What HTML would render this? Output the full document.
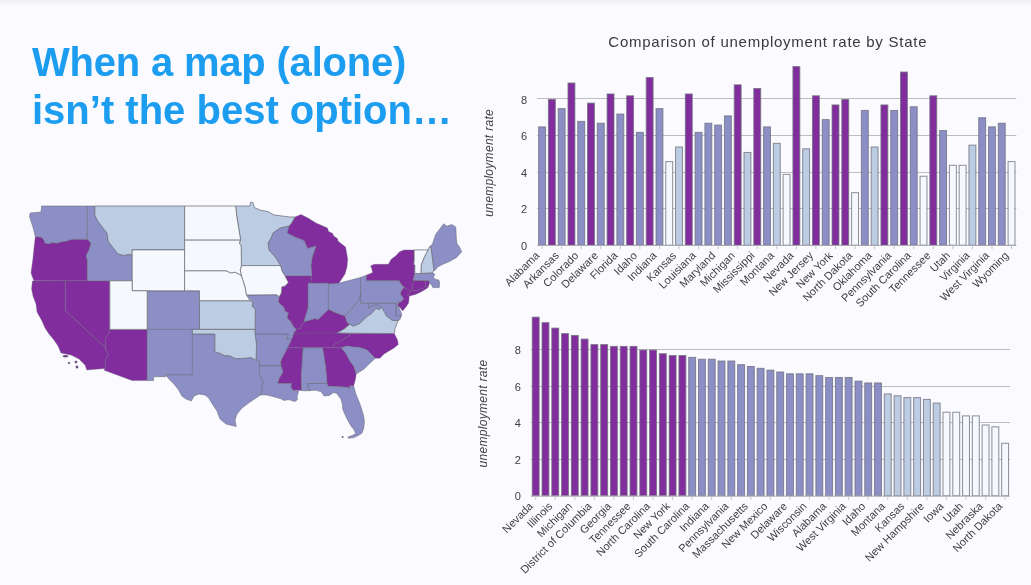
<!DOCTYPE html>
<html><head><meta charset="utf-8"><title>When a map (alone) isn't the best option</title>
<style>
html,body{margin:0;padding:0;}
body{width:1031px;height:585px;overflow:hidden;background:#fafaff;font-family:"Liberation Sans",sans-serif;position:relative;}
.topbar{position:absolute;left:0;top:0;width:1031px;height:6px;background:linear-gradient(#f2f2f5 0,#f3f3f6 50%,#fafaff 100%);}
h1{position:absolute;left:32px;top:38px;margin:0;font-weight:700;font-size:40px;line-height:48px;color:#1c9df0;letter-spacing:0px;white-space:nowrap;will-change:transform;}
svg{position:absolute;left:0;top:0;will-change:transform;}
.tk{font-size:11px;fill:#3e3e3e;}
.at{font-size:12px;font-style:italic;fill:#444;letter-spacing:0.3px;}
.xl{font-size:11px;fill:#3e3e3e;}
.ct{font-size:15px;fill:#3a3a3a;letter-spacing:0.74px;}
</style></head><body>
<div class="topbar"></div>
<h1><span id="l1" style="letter-spacing:-0.2px">When a map (alone)</span><br><span id="l2" style="letter-spacing:0px">isn’t the best option…</span></h1>
<svg width="1031" height="585" viewBox="0 0 1031 585" font-family="Liberation Sans, sans-serif">
<text x="767.8" y="46.8" text-anchor="middle" class="ct">Comparison of unemployment rate by State</text>
<g id="chart-top">
<line x1="537.2" y1="208.5" x2="1016.4" y2="208.5" stroke="#bdbdc0" stroke-width="1"/>
<line x1="537.2" y1="172.5" x2="1016.4" y2="172.5" stroke="#bdbdc0" stroke-width="1"/>
<line x1="537.2" y1="135.5" x2="1016.4" y2="135.5" stroke="#bdbdc0" stroke-width="1"/>
<line x1="537.2" y1="98.5" x2="1016.4" y2="98.5" stroke="#bdbdc0" stroke-width="1"/>
<rect x="538.64" y="126.88" width="6.90" height="118.32" fill="#8b8fc6" stroke="#70707e" stroke-opacity="0.8" stroke-width="1"/>
<rect x="548.42" y="99.46" width="6.90" height="145.74" fill="#812d9d" stroke="#70707e" stroke-opacity="0.8" stroke-width="1"/>
<rect x="558.20" y="108.60" width="6.90" height="136.60" fill="#8b8fc6" stroke="#70707e" stroke-opacity="0.8" stroke-width="1"/>
<rect x="567.98" y="83.01" width="6.90" height="162.19" fill="#812d9d" stroke="#70707e" stroke-opacity="0.8" stroke-width="1"/>
<rect x="577.76" y="121.40" width="6.90" height="123.80" fill="#8b8fc6" stroke="#70707e" stroke-opacity="0.8" stroke-width="1"/>
<rect x="587.54" y="103.12" width="6.90" height="142.08" fill="#812d9d" stroke="#70707e" stroke-opacity="0.8" stroke-width="1"/>
<rect x="597.32" y="123.22" width="6.90" height="121.98" fill="#8b8fc6" stroke="#70707e" stroke-opacity="0.8" stroke-width="1"/>
<rect x="607.10" y="93.98" width="6.90" height="151.22" fill="#812d9d" stroke="#70707e" stroke-opacity="0.8" stroke-width="1"/>
<rect x="616.88" y="114.08" width="6.90" height="131.12" fill="#8b8fc6" stroke="#70707e" stroke-opacity="0.8" stroke-width="1"/>
<rect x="626.66" y="95.80" width="6.90" height="149.40" fill="#812d9d" stroke="#70707e" stroke-opacity="0.8" stroke-width="1"/>
<rect x="636.44" y="132.36" width="6.90" height="112.84" fill="#8b8fc6" stroke="#70707e" stroke-opacity="0.8" stroke-width="1"/>
<rect x="646.22" y="77.52" width="6.90" height="167.68" fill="#812d9d" stroke="#70707e" stroke-opacity="0.8" stroke-width="1"/>
<rect x="656.00" y="108.60" width="6.90" height="136.60" fill="#8b8fc6" stroke="#70707e" stroke-opacity="0.8" stroke-width="1"/>
<rect x="665.78" y="161.61" width="6.90" height="83.59" fill="#f5f9fd" stroke="#70707e" stroke-opacity="0.8" stroke-width="1"/>
<rect x="675.56" y="146.99" width="6.90" height="98.21" fill="#bccde3" stroke="#70707e" stroke-opacity="0.8" stroke-width="1"/>
<rect x="685.34" y="93.98" width="6.90" height="151.22" fill="#812d9d" stroke="#70707e" stroke-opacity="0.8" stroke-width="1"/>
<rect x="695.12" y="132.36" width="6.90" height="112.84" fill="#8b8fc6" stroke="#70707e" stroke-opacity="0.8" stroke-width="1"/>
<rect x="704.90" y="123.22" width="6.90" height="121.98" fill="#8b8fc6" stroke="#70707e" stroke-opacity="0.8" stroke-width="1"/>
<rect x="714.68" y="125.05" width="6.90" height="120.15" fill="#8b8fc6" stroke="#70707e" stroke-opacity="0.8" stroke-width="1"/>
<rect x="724.46" y="115.91" width="6.90" height="129.29" fill="#8b8fc6" stroke="#70707e" stroke-opacity="0.8" stroke-width="1"/>
<rect x="734.24" y="84.84" width="6.90" height="160.36" fill="#812d9d" stroke="#70707e" stroke-opacity="0.8" stroke-width="1"/>
<rect x="744.02" y="152.47" width="6.90" height="92.73" fill="#bccde3" stroke="#70707e" stroke-opacity="0.8" stroke-width="1"/>
<rect x="753.80" y="88.49" width="6.90" height="156.71" fill="#812d9d" stroke="#70707e" stroke-opacity="0.8" stroke-width="1"/>
<rect x="763.58" y="126.88" width="6.90" height="118.32" fill="#8b8fc6" stroke="#70707e" stroke-opacity="0.8" stroke-width="1"/>
<rect x="773.36" y="143.33" width="6.90" height="101.87" fill="#bccde3" stroke="#70707e" stroke-opacity="0.8" stroke-width="1"/>
<rect x="783.14" y="174.41" width="6.90" height="70.79" fill="#f5f9fd" stroke="#70707e" stroke-opacity="0.8" stroke-width="1"/>
<rect x="792.92" y="66.56" width="6.90" height="178.64" fill="#812d9d" stroke="#70707e" stroke-opacity="0.8" stroke-width="1"/>
<rect x="802.70" y="148.82" width="6.90" height="96.38" fill="#bccde3" stroke="#70707e" stroke-opacity="0.8" stroke-width="1"/>
<rect x="812.48" y="95.80" width="6.90" height="149.40" fill="#812d9d" stroke="#70707e" stroke-opacity="0.8" stroke-width="1"/>
<rect x="822.26" y="119.57" width="6.90" height="125.63" fill="#8b8fc6" stroke="#70707e" stroke-opacity="0.8" stroke-width="1"/>
<rect x="832.04" y="104.94" width="6.90" height="140.26" fill="#812d9d" stroke="#70707e" stroke-opacity="0.8" stroke-width="1"/>
<rect x="841.82" y="99.46" width="6.90" height="145.74" fill="#812d9d" stroke="#70707e" stroke-opacity="0.8" stroke-width="1"/>
<rect x="851.60" y="192.69" width="6.90" height="52.51" fill="#f5f9fd" stroke="#70707e" stroke-opacity="0.8" stroke-width="1"/>
<rect x="861.38" y="110.43" width="6.90" height="134.77" fill="#8b8fc6" stroke="#70707e" stroke-opacity="0.8" stroke-width="1"/>
<rect x="871.16" y="146.99" width="6.90" height="98.21" fill="#bccde3" stroke="#70707e" stroke-opacity="0.8" stroke-width="1"/>
<rect x="880.94" y="104.94" width="6.90" height="140.26" fill="#812d9d" stroke="#70707e" stroke-opacity="0.8" stroke-width="1"/>
<rect x="890.72" y="110.43" width="6.90" height="134.77" fill="#8b8fc6" stroke="#70707e" stroke-opacity="0.8" stroke-width="1"/>
<rect x="900.50" y="72.04" width="6.90" height="173.16" fill="#812d9d" stroke="#70707e" stroke-opacity="0.8" stroke-width="1"/>
<rect x="910.28" y="106.77" width="6.90" height="138.43" fill="#8b8fc6" stroke="#70707e" stroke-opacity="0.8" stroke-width="1"/>
<rect x="920.06" y="176.24" width="6.90" height="68.96" fill="#f5f9fd" stroke="#70707e" stroke-opacity="0.8" stroke-width="1"/>
<rect x="929.84" y="95.80" width="6.90" height="149.40" fill="#812d9d" stroke="#70707e" stroke-opacity="0.8" stroke-width="1"/>
<rect x="939.62" y="130.54" width="6.90" height="114.66" fill="#8b8fc6" stroke="#70707e" stroke-opacity="0.8" stroke-width="1"/>
<rect x="949.40" y="165.27" width="6.90" height="79.93" fill="#f5f9fd" stroke="#70707e" stroke-opacity="0.8" stroke-width="1"/>
<rect x="959.18" y="165.27" width="6.90" height="79.93" fill="#f5f9fd" stroke="#70707e" stroke-opacity="0.8" stroke-width="1"/>
<rect x="968.96" y="145.16" width="6.90" height="100.04" fill="#bccde3" stroke="#70707e" stroke-opacity="0.8" stroke-width="1"/>
<rect x="978.74" y="117.74" width="6.90" height="127.46" fill="#8b8fc6" stroke="#70707e" stroke-opacity="0.8" stroke-width="1"/>
<rect x="988.52" y="126.88" width="6.90" height="118.32" fill="#8b8fc6" stroke="#70707e" stroke-opacity="0.8" stroke-width="1"/>
<rect x="998.30" y="123.22" width="6.90" height="121.98" fill="#8b8fc6" stroke="#70707e" stroke-opacity="0.8" stroke-width="1"/>
<rect x="1008.08" y="161.61" width="6.90" height="83.59" fill="#f5f9fd" stroke="#70707e" stroke-opacity="0.8" stroke-width="1"/>
<line x1="537.2" y1="245.5" x2="1016.4" y2="245.5" stroke="#a9a9b0" stroke-width="1"/>
<text x="527.2" y="249.8" text-anchor="end" class="tk">0</text>
<text x="527.2" y="213.2" text-anchor="end" class="tk">2</text>
<text x="527.2" y="176.7" text-anchor="end" class="tk">4</text>
<text x="527.2" y="140.1" text-anchor="end" class="tk">6</text>
<text x="527.2" y="103.6" text-anchor="end" class="tk">8</text>
<text transform="translate(492.9,162.9) rotate(-90)" text-anchor="middle" class="at">unemployment rate</text>
<line x1="542.1" y1="245.7" x2="542.1" y2="249.2" stroke="#c4c4ca" stroke-width="1"/>
<text transform="translate(537.3,253.5) rotate(-45)" text-anchor="end" class="xl" dy="0.35em">Alabama</text>
<line x1="561.6" y1="245.7" x2="561.6" y2="249.2" stroke="#c4c4ca" stroke-width="1"/>
<text transform="translate(556.9,253.5) rotate(-45)" text-anchor="end" class="xl" dy="0.35em">Arkansas</text>
<line x1="581.2" y1="245.7" x2="581.2" y2="249.2" stroke="#c4c4ca" stroke-width="1"/>
<text transform="translate(576.4,253.5) rotate(-45)" text-anchor="end" class="xl" dy="0.35em">Colorado</text>
<line x1="600.8" y1="245.7" x2="600.8" y2="249.2" stroke="#c4c4ca" stroke-width="1"/>
<text transform="translate(596.0,253.5) rotate(-45)" text-anchor="end" class="xl" dy="0.35em">Delaware</text>
<line x1="620.3" y1="245.7" x2="620.3" y2="249.2" stroke="#c4c4ca" stroke-width="1"/>
<text transform="translate(615.5,253.5) rotate(-45)" text-anchor="end" class="xl" dy="0.35em">Florida</text>
<line x1="639.9" y1="245.7" x2="639.9" y2="249.2" stroke="#c4c4ca" stroke-width="1"/>
<text transform="translate(635.1,253.5) rotate(-45)" text-anchor="end" class="xl" dy="0.35em">Idaho</text>
<line x1="659.5" y1="245.7" x2="659.5" y2="249.2" stroke="#c4c4ca" stroke-width="1"/>
<text transform="translate(654.7,253.5) rotate(-45)" text-anchor="end" class="xl" dy="0.35em">Indiana</text>
<line x1="679.0" y1="245.7" x2="679.0" y2="249.2" stroke="#c4c4ca" stroke-width="1"/>
<text transform="translate(674.2,253.5) rotate(-45)" text-anchor="end" class="xl" dy="0.35em">Kansas</text>
<line x1="698.6" y1="245.7" x2="698.6" y2="249.2" stroke="#c4c4ca" stroke-width="1"/>
<text transform="translate(693.8,253.5) rotate(-45)" text-anchor="end" class="xl" dy="0.35em">Louisiana</text>
<line x1="718.1" y1="245.7" x2="718.1" y2="249.2" stroke="#c4c4ca" stroke-width="1"/>
<text transform="translate(713.3,253.5) rotate(-45)" text-anchor="end" class="xl" dy="0.35em">Maryland</text>
<line x1="737.7" y1="245.7" x2="737.7" y2="249.2" stroke="#c4c4ca" stroke-width="1"/>
<text transform="translate(732.9,253.5) rotate(-45)" text-anchor="end" class="xl" dy="0.35em">Michigan</text>
<line x1="757.2" y1="245.7" x2="757.2" y2="249.2" stroke="#c4c4ca" stroke-width="1"/>
<text transform="translate(752.5,253.5) rotate(-45)" text-anchor="end" class="xl" dy="0.35em">Mississippi</text>
<line x1="776.8" y1="245.7" x2="776.8" y2="249.2" stroke="#c4c4ca" stroke-width="1"/>
<text transform="translate(772.0,253.5) rotate(-45)" text-anchor="end" class="xl" dy="0.35em">Montana</text>
<line x1="796.4" y1="245.7" x2="796.4" y2="249.2" stroke="#c4c4ca" stroke-width="1"/>
<text transform="translate(791.6,253.5) rotate(-45)" text-anchor="end" class="xl" dy="0.35em">Nevada</text>
<line x1="815.9" y1="245.7" x2="815.9" y2="249.2" stroke="#c4c4ca" stroke-width="1"/>
<text transform="translate(811.1,253.5) rotate(-45)" text-anchor="end" class="xl" dy="0.35em">New Jersey</text>
<line x1="835.5" y1="245.7" x2="835.5" y2="249.2" stroke="#c4c4ca" stroke-width="1"/>
<text transform="translate(830.7,253.5) rotate(-45)" text-anchor="end" class="xl" dy="0.35em">New York</text>
<line x1="855.1" y1="245.7" x2="855.1" y2="249.2" stroke="#c4c4ca" stroke-width="1"/>
<text transform="translate(850.3,253.5) rotate(-45)" text-anchor="end" class="xl" dy="0.35em">North Dakota</text>
<line x1="874.6" y1="245.7" x2="874.6" y2="249.2" stroke="#c4c4ca" stroke-width="1"/>
<text transform="translate(869.8,253.5) rotate(-45)" text-anchor="end" class="xl" dy="0.35em">Oklahoma</text>
<line x1="894.2" y1="245.7" x2="894.2" y2="249.2" stroke="#c4c4ca" stroke-width="1"/>
<text transform="translate(889.4,253.5) rotate(-45)" text-anchor="end" class="xl" dy="0.35em">Pennsylvania</text>
<line x1="913.7" y1="245.7" x2="913.7" y2="249.2" stroke="#c4c4ca" stroke-width="1"/>
<text transform="translate(908.9,253.5) rotate(-45)" text-anchor="end" class="xl" dy="0.35em">South Carolina</text>
<line x1="933.3" y1="245.7" x2="933.3" y2="249.2" stroke="#c4c4ca" stroke-width="1"/>
<text transform="translate(928.5,253.5) rotate(-45)" text-anchor="end" class="xl" dy="0.35em">Tennessee</text>
<line x1="952.9" y1="245.7" x2="952.9" y2="249.2" stroke="#c4c4ca" stroke-width="1"/>
<text transform="translate(948.1,253.5) rotate(-45)" text-anchor="end" class="xl" dy="0.35em">Utah</text>
<line x1="972.4" y1="245.7" x2="972.4" y2="249.2" stroke="#c4c4ca" stroke-width="1"/>
<text transform="translate(967.6,253.5) rotate(-45)" text-anchor="end" class="xl" dy="0.35em">Virginia</text>
<line x1="992.0" y1="245.7" x2="992.0" y2="249.2" stroke="#c4c4ca" stroke-width="1"/>
<text transform="translate(987.2,253.5) rotate(-45)" text-anchor="end" class="xl" dy="0.35em">West Virginia</text>
<line x1="1011.5" y1="245.7" x2="1011.5" y2="249.2" stroke="#c4c4ca" stroke-width="1"/>
<text transform="translate(1006.7,253.5) rotate(-45)" text-anchor="end" class="xl" dy="0.35em">Wyoming</text>
</g>
<g id="chart-bottom">
<line x1="530.8" y1="459.5" x2="1010.0" y2="459.5" stroke="#bdbdc0" stroke-width="1"/>
<line x1="530.8" y1="422.5" x2="1010.0" y2="422.5" stroke="#bdbdc0" stroke-width="1"/>
<line x1="530.8" y1="386.5" x2="1010.0" y2="386.5" stroke="#bdbdc0" stroke-width="1"/>
<line x1="530.8" y1="349.5" x2="1010.0" y2="349.5" stroke="#bdbdc0" stroke-width="1"/>
<rect x="532.24" y="317.16" width="6.90" height="178.64" fill="#812d9d" stroke="#70707e" stroke-opacity="0.8" stroke-width="1"/>
<rect x="542.02" y="322.64" width="6.90" height="173.16" fill="#812d9d" stroke="#70707e" stroke-opacity="0.8" stroke-width="1"/>
<rect x="551.80" y="328.12" width="6.90" height="167.68" fill="#812d9d" stroke="#70707e" stroke-opacity="0.8" stroke-width="1"/>
<rect x="561.58" y="333.61" width="6.90" height="162.19" fill="#812d9d" stroke="#70707e" stroke-opacity="0.8" stroke-width="1"/>
<rect x="571.36" y="335.44" width="6.90" height="160.36" fill="#812d9d" stroke="#70707e" stroke-opacity="0.8" stroke-width="1"/>
<rect x="581.14" y="339.09" width="6.90" height="156.71" fill="#812d9d" stroke="#70707e" stroke-opacity="0.8" stroke-width="1"/>
<rect x="590.92" y="344.58" width="6.90" height="151.22" fill="#812d9d" stroke="#70707e" stroke-opacity="0.8" stroke-width="1"/>
<rect x="600.70" y="344.58" width="6.90" height="151.22" fill="#812d9d" stroke="#70707e" stroke-opacity="0.8" stroke-width="1"/>
<rect x="610.48" y="346.40" width="6.90" height="149.40" fill="#812d9d" stroke="#70707e" stroke-opacity="0.8" stroke-width="1"/>
<rect x="620.26" y="346.40" width="6.90" height="149.40" fill="#812d9d" stroke="#70707e" stroke-opacity="0.8" stroke-width="1"/>
<rect x="630.04" y="346.40" width="6.90" height="149.40" fill="#812d9d" stroke="#70707e" stroke-opacity="0.8" stroke-width="1"/>
<rect x="639.82" y="350.06" width="6.90" height="145.74" fill="#812d9d" stroke="#70707e" stroke-opacity="0.8" stroke-width="1"/>
<rect x="649.60" y="350.06" width="6.90" height="145.74" fill="#812d9d" stroke="#70707e" stroke-opacity="0.8" stroke-width="1"/>
<rect x="659.38" y="353.72" width="6.90" height="142.08" fill="#812d9d" stroke="#70707e" stroke-opacity="0.8" stroke-width="1"/>
<rect x="669.16" y="355.54" width="6.90" height="140.26" fill="#812d9d" stroke="#70707e" stroke-opacity="0.8" stroke-width="1"/>
<rect x="678.94" y="355.54" width="6.90" height="140.26" fill="#812d9d" stroke="#70707e" stroke-opacity="0.8" stroke-width="1"/>
<rect x="688.72" y="357.37" width="6.90" height="138.43" fill="#8b8fc6" stroke="#70707e" stroke-opacity="0.8" stroke-width="1"/>
<rect x="698.50" y="359.20" width="6.90" height="136.60" fill="#8b8fc6" stroke="#70707e" stroke-opacity="0.8" stroke-width="1"/>
<rect x="708.28" y="359.20" width="6.90" height="136.60" fill="#8b8fc6" stroke="#70707e" stroke-opacity="0.8" stroke-width="1"/>
<rect x="718.06" y="361.03" width="6.90" height="134.77" fill="#8b8fc6" stroke="#70707e" stroke-opacity="0.8" stroke-width="1"/>
<rect x="727.84" y="361.03" width="6.90" height="134.77" fill="#8b8fc6" stroke="#70707e" stroke-opacity="0.8" stroke-width="1"/>
<rect x="737.62" y="364.68" width="6.90" height="131.12" fill="#8b8fc6" stroke="#70707e" stroke-opacity="0.8" stroke-width="1"/>
<rect x="747.40" y="366.51" width="6.90" height="129.29" fill="#8b8fc6" stroke="#70707e" stroke-opacity="0.8" stroke-width="1"/>
<rect x="757.18" y="368.34" width="6.90" height="127.46" fill="#8b8fc6" stroke="#70707e" stroke-opacity="0.8" stroke-width="1"/>
<rect x="766.96" y="370.17" width="6.90" height="125.63" fill="#8b8fc6" stroke="#70707e" stroke-opacity="0.8" stroke-width="1"/>
<rect x="776.74" y="372.00" width="6.90" height="123.80" fill="#8b8fc6" stroke="#70707e" stroke-opacity="0.8" stroke-width="1"/>
<rect x="786.52" y="373.82" width="6.90" height="121.98" fill="#8b8fc6" stroke="#70707e" stroke-opacity="0.8" stroke-width="1"/>
<rect x="796.30" y="373.82" width="6.90" height="121.98" fill="#8b8fc6" stroke="#70707e" stroke-opacity="0.8" stroke-width="1"/>
<rect x="806.08" y="373.82" width="6.90" height="121.98" fill="#8b8fc6" stroke="#70707e" stroke-opacity="0.8" stroke-width="1"/>
<rect x="815.86" y="375.65" width="6.90" height="120.15" fill="#8b8fc6" stroke="#70707e" stroke-opacity="0.8" stroke-width="1"/>
<rect x="825.64" y="377.48" width="6.90" height="118.32" fill="#8b8fc6" stroke="#70707e" stroke-opacity="0.8" stroke-width="1"/>
<rect x="835.42" y="377.48" width="6.90" height="118.32" fill="#8b8fc6" stroke="#70707e" stroke-opacity="0.8" stroke-width="1"/>
<rect x="845.20" y="377.48" width="6.90" height="118.32" fill="#8b8fc6" stroke="#70707e" stroke-opacity="0.8" stroke-width="1"/>
<rect x="854.98" y="381.14" width="6.90" height="114.66" fill="#8b8fc6" stroke="#70707e" stroke-opacity="0.8" stroke-width="1"/>
<rect x="864.76" y="382.96" width="6.90" height="112.84" fill="#8b8fc6" stroke="#70707e" stroke-opacity="0.8" stroke-width="1"/>
<rect x="874.54" y="382.96" width="6.90" height="112.84" fill="#8b8fc6" stroke="#70707e" stroke-opacity="0.8" stroke-width="1"/>
<rect x="884.32" y="393.93" width="6.90" height="101.87" fill="#bccde3" stroke="#70707e" stroke-opacity="0.8" stroke-width="1"/>
<rect x="894.10" y="395.76" width="6.90" height="100.04" fill="#bccde3" stroke="#70707e" stroke-opacity="0.8" stroke-width="1"/>
<rect x="903.88" y="397.59" width="6.90" height="98.21" fill="#bccde3" stroke="#70707e" stroke-opacity="0.8" stroke-width="1"/>
<rect x="913.66" y="397.59" width="6.90" height="98.21" fill="#bccde3" stroke="#70707e" stroke-opacity="0.8" stroke-width="1"/>
<rect x="923.44" y="399.42" width="6.90" height="96.38" fill="#bccde3" stroke="#70707e" stroke-opacity="0.8" stroke-width="1"/>
<rect x="933.22" y="403.07" width="6.90" height="92.73" fill="#bccde3" stroke="#70707e" stroke-opacity="0.8" stroke-width="1"/>
<rect x="943.00" y="412.21" width="6.90" height="83.59" fill="#f5f9fd" stroke="#70707e" stroke-opacity="0.8" stroke-width="1"/>
<rect x="952.78" y="412.21" width="6.90" height="83.59" fill="#f5f9fd" stroke="#70707e" stroke-opacity="0.8" stroke-width="1"/>
<rect x="962.56" y="415.87" width="6.90" height="79.93" fill="#f5f9fd" stroke="#70707e" stroke-opacity="0.8" stroke-width="1"/>
<rect x="972.34" y="415.87" width="6.90" height="79.93" fill="#f5f9fd" stroke="#70707e" stroke-opacity="0.8" stroke-width="1"/>
<rect x="982.12" y="425.01" width="6.90" height="70.79" fill="#f5f9fd" stroke="#70707e" stroke-opacity="0.8" stroke-width="1"/>
<rect x="991.90" y="426.84" width="6.90" height="68.96" fill="#f5f9fd" stroke="#70707e" stroke-opacity="0.8" stroke-width="1"/>
<rect x="1001.68" y="443.29" width="6.90" height="52.51" fill="#f5f9fd" stroke="#70707e" stroke-opacity="0.8" stroke-width="1"/>
<line x1="530.8" y1="496.1" x2="1010.0" y2="496.1" stroke="#a9a9b0" stroke-width="1"/>
<text x="520.8" y="500.4" text-anchor="end" class="tk">0</text>
<text x="520.8" y="463.8" text-anchor="end" class="tk">2</text>
<text x="520.8" y="427.3" text-anchor="end" class="tk">4</text>
<text x="520.8" y="390.7" text-anchor="end" class="tk">6</text>
<text x="520.8" y="354.2" text-anchor="end" class="tk">8</text>
<text transform="translate(486.5,413.5) rotate(-90)" text-anchor="middle" class="at">unemployment rate</text>
<line x1="535.7" y1="496.3" x2="535.7" y2="499.8" stroke="#c4c4ca" stroke-width="1"/>
<text transform="translate(530.9,504.1) rotate(-45)" text-anchor="end" class="xl" dy="0.35em">Nevada</text>
<line x1="555.2" y1="496.3" x2="555.2" y2="499.8" stroke="#c4c4ca" stroke-width="1"/>
<text transform="translate(550.4,504.1) rotate(-45)" text-anchor="end" class="xl" dy="0.35em">Illinois</text>
<line x1="574.8" y1="496.3" x2="574.8" y2="499.8" stroke="#c4c4ca" stroke-width="1"/>
<text transform="translate(570.0,504.1) rotate(-45)" text-anchor="end" class="xl" dy="0.35em">Michigan</text>
<line x1="594.4" y1="496.3" x2="594.4" y2="499.8" stroke="#c4c4ca" stroke-width="1"/>
<text transform="translate(589.6,504.1) rotate(-45)" text-anchor="end" class="xl" dy="0.35em">District of Columbia</text>
<line x1="613.9" y1="496.3" x2="613.9" y2="499.8" stroke="#c4c4ca" stroke-width="1"/>
<text transform="translate(609.1,504.1) rotate(-45)" text-anchor="end" class="xl" dy="0.35em">Georgia</text>
<line x1="633.5" y1="496.3" x2="633.5" y2="499.8" stroke="#c4c4ca" stroke-width="1"/>
<text transform="translate(628.7,504.1) rotate(-45)" text-anchor="end" class="xl" dy="0.35em">Tennessee</text>
<line x1="653.0" y1="496.3" x2="653.0" y2="499.8" stroke="#c4c4ca" stroke-width="1"/>
<text transform="translate(648.2,504.1) rotate(-45)" text-anchor="end" class="xl" dy="0.35em">North Carolina</text>
<line x1="672.6" y1="496.3" x2="672.6" y2="499.8" stroke="#c4c4ca" stroke-width="1"/>
<text transform="translate(667.8,504.1) rotate(-45)" text-anchor="end" class="xl" dy="0.35em">New York</text>
<line x1="692.2" y1="496.3" x2="692.2" y2="499.8" stroke="#c4c4ca" stroke-width="1"/>
<text transform="translate(687.4,504.1) rotate(-45)" text-anchor="end" class="xl" dy="0.35em">South Carolina</text>
<line x1="711.7" y1="496.3" x2="711.7" y2="499.8" stroke="#c4c4ca" stroke-width="1"/>
<text transform="translate(706.9,504.1) rotate(-45)" text-anchor="end" class="xl" dy="0.35em">Indiana</text>
<line x1="731.3" y1="496.3" x2="731.3" y2="499.8" stroke="#c4c4ca" stroke-width="1"/>
<text transform="translate(726.5,504.1) rotate(-45)" text-anchor="end" class="xl" dy="0.35em">Pennsylvania</text>
<line x1="750.8" y1="496.3" x2="750.8" y2="499.8" stroke="#c4c4ca" stroke-width="1"/>
<text transform="translate(746.0,504.1) rotate(-45)" text-anchor="end" class="xl" dy="0.35em">Massachusetts</text>
<line x1="770.4" y1="496.3" x2="770.4" y2="499.8" stroke="#c4c4ca" stroke-width="1"/>
<text transform="translate(765.6,504.1) rotate(-45)" text-anchor="end" class="xl" dy="0.35em">New Mexico</text>
<line x1="790.0" y1="496.3" x2="790.0" y2="499.8" stroke="#c4c4ca" stroke-width="1"/>
<text transform="translate(785.2,504.1) rotate(-45)" text-anchor="end" class="xl" dy="0.35em">Delaware</text>
<line x1="809.5" y1="496.3" x2="809.5" y2="499.8" stroke="#c4c4ca" stroke-width="1"/>
<text transform="translate(804.7,504.1) rotate(-45)" text-anchor="end" class="xl" dy="0.35em">Wisconsin</text>
<line x1="829.1" y1="496.3" x2="829.1" y2="499.8" stroke="#c4c4ca" stroke-width="1"/>
<text transform="translate(824.3,504.1) rotate(-45)" text-anchor="end" class="xl" dy="0.35em">Alabama</text>
<line x1="848.6" y1="496.3" x2="848.6" y2="499.8" stroke="#c4c4ca" stroke-width="1"/>
<text transform="translate(843.9,504.1) rotate(-45)" text-anchor="end" class="xl" dy="0.35em">West Virginia</text>
<line x1="868.2" y1="496.3" x2="868.2" y2="499.8" stroke="#c4c4ca" stroke-width="1"/>
<text transform="translate(863.4,504.1) rotate(-45)" text-anchor="end" class="xl" dy="0.35em">Idaho</text>
<line x1="887.8" y1="496.3" x2="887.8" y2="499.8" stroke="#c4c4ca" stroke-width="1"/>
<text transform="translate(883.0,504.1) rotate(-45)" text-anchor="end" class="xl" dy="0.35em">Montana</text>
<line x1="907.3" y1="496.3" x2="907.3" y2="499.8" stroke="#c4c4ca" stroke-width="1"/>
<text transform="translate(902.5,504.1) rotate(-45)" text-anchor="end" class="xl" dy="0.35em">Kansas</text>
<line x1="926.9" y1="496.3" x2="926.9" y2="499.8" stroke="#c4c4ca" stroke-width="1"/>
<text transform="translate(922.1,504.1) rotate(-45)" text-anchor="end" class="xl" dy="0.35em">New Hampshire</text>
<line x1="946.4" y1="496.3" x2="946.4" y2="499.8" stroke="#c4c4ca" stroke-width="1"/>
<text transform="translate(941.6,504.1) rotate(-45)" text-anchor="end" class="xl" dy="0.35em">Iowa</text>
<line x1="966.0" y1="496.3" x2="966.0" y2="499.8" stroke="#c4c4ca" stroke-width="1"/>
<text transform="translate(961.2,504.1) rotate(-45)" text-anchor="end" class="xl" dy="0.35em">Utah</text>
<line x1="985.6" y1="496.3" x2="985.6" y2="499.8" stroke="#c4c4ca" stroke-width="1"/>
<text transform="translate(980.8,504.1) rotate(-45)" text-anchor="end" class="xl" dy="0.35em">Nebraska</text>
<line x1="1005.1" y1="496.3" x2="1005.1" y2="499.8" stroke="#c4c4ca" stroke-width="1"/>
<text transform="translate(1000.3,504.1) rotate(-45)" text-anchor="end" class="xl" dy="0.35em">North Dakota</text>
</g>
<g id="map" stroke="#686874" stroke-width="0.9" stroke-linejoin="round">
<path d="M65.3,280.8L109.8,280.8L109.8,329.4L109.8,332.0L104.9,338.7L105.5,343.3L105.4,347.8L65.3,310.4Z" fill="#812d9d" stroke-opacity="0.38"/>
<path d="M425.8,280.6L428.9,280.6L429.4,283.1L428.9,285.7L427.5,286.0L425.4,287.9Z" fill="#812d9d" stroke-opacity="0.38"/>
<path d="M284.9,275.8L311.9,275.8L310.6,283.3L308.1,283.3L308.1,307.0L307.2,311.3L305.0,318.0L304.2,321.8L301.6,325.6L300.5,328.4L296.0,329.4L293.4,326.5L290.4,321.2L287.0,318.0L288.3,312.8L284.8,311.1L284.0,307.5L279.6,303.6L278.4,301.2L279.2,296.8L281.4,292.8L281.8,286.9L285.3,285.9L288.3,282.4Z" fill="#812d9d" stroke-opacity="0.38"/>
<path d="M65.3,280.8L65.3,310.4L105.4,347.8L105.9,350.1L108.6,354.7L106.8,356.9L104.9,362.3L106.2,365.9L104.8,368.4L86.8,370.1L85.0,365.0L79.0,359.0L71.0,355.0L61.0,353.0L58.0,346.0L54.0,340.0L49.0,334.0L45.0,328.0L42.0,321.0L37.0,312.0L36.0,304.0L33.0,296.0L31.6,289.0L32.4,281.0Z" fill="#812d9d" stroke-opacity="0.38"/>
<path d="M295.0,217.0L301.0,214.4L308.0,218.0L316.0,223.0L327.5,228.0L328.6,231.5L332.8,233.5L333.6,236.0L337.4,238.5L338.2,241.3L345.6,247.1L347.7,259.0L347.0,267.0L345.0,274.0L341.2,279.8L338.7,283.6L328.4,283.9L328.4,283.3L310.6,283.3L311.9,275.8L311.0,266.0L312.0,258.0L316.0,246.0L307.6,248.5L304.0,240.5L296.0,237.6L287.0,233.0L289.0,226.0L291.0,224.0Z" fill="#812d9d" stroke-opacity="0.38"/>
<path d="M287.4,347.8L303.1,347.8L301.3,375.6L301.6,390.5L297.0,390.3L293.0,390.5L290.8,387.0L291.7,383.5L277.7,383.5L279.2,378.3L282.9,372.1L281.1,365.9L280.7,361.4L282.2,357.8L285.2,352.4Z" fill="#812d9d" stroke-opacity="0.38"/>
<path d="M296.0,329.4L300.5,328.4L301.6,325.6L304.2,321.8L310.0,320.0L315.0,318.6L318.0,319.4L323.0,314.6L328.4,309.4L330.0,310.0L334.0,312.0L340.7,314.6L345.0,315.9L347.3,322.8L349.7,324.3L344.3,328.9L336.9,333.1L304.1,332.9L304.1,334.0L293.4,334.0Z" fill="#812d9d" stroke-opacity="0.38"/>
<path d="M293.4,334.0L304.1,334.0L304.1,332.9L336.9,333.1L351.9,333.2L347.0,337.0L340.7,341.1L335.0,344.0L332.1,347.8L287.4,347.8L289.3,344.2L291.9,338.7Z" fill="#812d9d" stroke-opacity="0.38"/>
<path d="M322.6,347.8L341.3,347.8L345.8,353.3L350.2,361.4L354.0,366.8L356.2,373.9L355.5,379.2L353.6,386.1L349.9,385.7L349.1,389.1L348.0,387.3L328.1,386.1L327.1,383.5L327.1,383.5L325.7,367.1Z" fill="#812d9d" stroke-opacity="0.38"/>
<path d="M404.1,287.3L410.1,290.8L409.1,293.8L407.5,295.8L409.3,296.3L408.6,303.1L406.3,306.5L402.6,311.0L400.4,308.0L397.7,305.5L398.7,302.6L401.1,301.6L403.7,298.7L400.4,294.3L401.1,291.3Z" fill="#812d9d" stroke-opacity="0.38"/>
<path d="M109.8,329.4L147.2,329.4L147.2,380.6L132.1,380.6L104.2,370.3L104.8,368.4L106.2,365.9L104.9,362.3L106.8,356.9L108.6,354.7L105.9,350.1L105.4,347.8L105.5,343.3L104.9,338.7L109.8,332.0Z" fill="#812d9d" stroke-opacity="0.38"/>
<path d="M351.9,333.2L394.3,333.6L397.5,340.0L398.3,344.5L394.0,348.0L389.0,351.0L384.0,354.0L379.8,358.3L375.3,358.3L366.9,349.7L357.7,346.9L356.6,347.4L346.9,346.0L341.3,347.8L332.1,347.8L335.0,344.0L340.7,341.1L347.0,337.0Z" fill="#812d9d" stroke-opacity="0.38"/>
<path d="M413.1,280.3L425.8,280.6L425.4,287.9L422.8,288.2L416.4,290.6L412.0,290.8L411.4,289.8L412.7,287.9Z" fill="#812d9d" stroke-opacity="0.38"/>
<path d="M35.3,236.5L39.8,237.1L42.1,237.6L44.3,240.8L45.1,243.3L48.8,243.8L52.5,242.4L56.3,243.3L60.8,242.1L65.3,241.2L69.7,240.1L72.7,239.2L87.4,239.2L91.0,243.0L89.0,250.0L86.0,256.0L87.4,260.0L87.4,280.8L33.8,280.8L31.0,273.0L33.0,258.0L34.0,248.0Z" fill="#812d9d" stroke-opacity="0.38"/>
<path d="M366.3,280.8L366.3,275.3L372.7,272.4L371.6,268.0L370.5,266.0L374.2,264.3L388.4,264.3L391.0,259.4L395.9,255.7L399.6,251.7L404.1,249.9L414.2,249.9L414.2,260.4L413.8,264.5L414.9,265.0L414.8,273.4L413.1,280.3L412.7,287.9L411.4,289.8L412.0,290.8L416.4,290.6L422.8,288.2L427.5,286.0L428.9,286.5L426.8,288.4L421.7,291.5L415.5,294.4L409.4,295.9L407.5,295.8L409.1,293.4L410.1,290.8L404.1,287.3L401.5,284.9L399.2,280.8Z" fill="#812d9d" stroke-opacity="0.38"/>
<path d="M341.3,347.8L346.9,346.0L356.6,347.4L357.7,346.9L366.9,349.7L375.3,358.3L369.0,364.0L364.0,369.0L356.2,373.9L354.0,366.8L350.2,361.4L345.8,353.3Z" fill="#8b8fc6" stroke-opacity="0.6"/>
<path d="M255.1,334.0L288.5,334.0L286.9,338.7L291.9,338.7L289.3,344.2L287.4,347.8L285.2,352.4L282.2,357.8L280.7,361.4L281.1,365.9L259.4,365.9L259.4,361.0L256.1,360.2L256.5,344.2Z" fill="#8b8fc6" stroke-opacity="0.6"/>
<path d="M308.1,283.3L328.4,283.3L328.4,309.4L323.0,314.6L318.0,319.4L315.0,318.6L310.0,320.0L304.2,321.8L305.0,318.0L307.2,311.3L308.1,307.0Z" fill="#8b8fc6" stroke-opacity="0.6"/>
<path d="M328.4,283.9L338.7,283.6L341.5,282.5L360.6,277.5L360.6,294.4L359.2,300.0L353.5,306.6L347.0,314.0L345.0,315.9L345.0,315.9L340.7,314.6L334.0,312.0L330.0,310.0L328.4,309.4Z" fill="#8b8fc6" stroke-opacity="0.6"/>
<path d="M360.6,277.5L366.3,275.3L366.3,280.8L399.2,280.8L401.5,284.9L404.1,287.3L401.1,291.3L400.4,294.3L403.7,298.7L401.1,301.6L398.7,302.6L397.4,302.3L396.0,303.4L360.6,303.4Z" fill="#8b8fc6" stroke-opacity="0.6"/>
<path d="M308.4,389.6L307.6,383.5L327.1,383.5L328.1,386.1L348.0,387.3L349.1,389.1L349.9,385.7L353.6,386.1L356.1,394.7L359.7,403.4L361.2,407.8L363.4,415.0L364.4,420.9L363.8,428.1L361.9,433.2L358.3,435.4L353.9,437.6L348.8,438.3L347.8,437.1L352.5,435.4L355.7,433.6L353.9,429.6L351.0,425.9L347.4,419.4L344.5,413.6L342.6,408.5L342.6,404.9L340.9,399.1L336.5,393.2L333.6,392.5L329.2,395.4L324.1,395.9L321.2,391.8L316.2,390.3L310.3,390.3L308.4,389.6Z" fill="#8b8fc6" stroke-opacity="0.6"/>
<path d="M413.1,280.3L414.8,273.4L432.5,272.8L434.9,274.4L433.3,276.9L434.9,279.3L438.9,280.1L439.7,284.1L439.2,287.6L432.8,287.6L431.7,284.9L429.4,283.1L428.9,280.6Z" fill="#8b8fc6" stroke-opacity="0.6"/>
<path d="M41.6,206.0L87.4,206.0L87.4,239.2L72.7,239.2L69.7,240.1L65.3,241.2L60.8,242.1L56.3,243.3L52.5,242.4L48.8,243.8L45.1,243.3L44.3,240.8L42.1,237.6L39.8,237.1L35.3,236.5L34.0,231.0L32.0,224.0L29.6,217.0L30.0,213.0L41.0,212.0Z" fill="#8b8fc6" stroke-opacity="0.6"/>
<path d="M147.2,329.4L192.4,329.4L192.4,374.8L165.5,374.8L165.5,376.7L153.5,376.7L153.5,380.6L147.2,380.6Z" fill="#8b8fc6" stroke-opacity="0.6"/>
<path d="M147.2,290.8L199.5,290.8L199.5,329.4L147.2,329.4Z" fill="#8b8fc6" stroke-opacity="0.6"/>
<path d="M289.0,226.0L287.0,233.0L296.0,237.6L304.0,240.5L307.6,248.5L316.0,246.0L312.0,258.0L311.0,266.0L311.9,275.8L284.9,275.8L282.0,271.0L280.5,265.6L279.0,263.0L276.0,258.0L269.0,250.0L268.0,243.0L271.0,238.0L273.0,233.0L280.0,228.0Z" fill="#8b8fc6" stroke-opacity="0.6"/>
<path d="M396.0,303.4L397.4,302.3L398.7,302.6L397.7,305.5L398.9,307.5L401.1,312.3L401.5,315.6L396.0,315.6Z" fill="#8b8fc6" stroke-opacity="0.6"/>
<path d="M433.9,270.0L430.9,246.8L429.3,247.1L432.5,243.9L435.7,234.3L443.7,223.8L446.9,226.2L451.7,224.6L455.8,227.0L456.4,240.0L457.1,244.1L459.1,246.2L461.7,251.8L456.6,257.4L448.4,262.1L443.2,264.1L438.1,266.7L434.5,270.8Z" fill="#8b8fc6" stroke-opacity="0.6"/>
<path d="M368.3,303.4L396.0,303.4L396.0,315.6L401.5,315.6L400.0,319.6L398.2,320.5L392.1,320.4L391.0,319.5L385.9,315.4L384.9,312.8L382.8,309.7L381.5,307.3L376.4,304.4L372.3,306.0L368.3,308.4Z" fill="#8b8fc6" stroke-opacity="0.6"/>
<path d="M246.5,295.0L276.7,294.7L279.2,296.8L278.4,301.2L279.6,303.6L284.0,307.5L284.8,311.1L288.3,312.8L287.0,318.0L290.4,321.2L293.4,326.5L296.0,329.4L293.4,334.0L291.9,338.7L286.9,338.7L288.5,334.0L255.1,334.0L255.1,329.4L255.3,309.2L251.9,306.0L253.0,302.6Z" fill="#8b8fc6" stroke-opacity="0.6"/>
<path d="M303.1,347.8L322.6,347.8L325.7,367.1L327.1,383.5L307.6,383.5L308.4,389.6L311.0,390.6L304.0,390.8L301.6,390.5L301.3,375.6Z" fill="#8b8fc6" stroke-opacity="0.6"/>
<path d="M345.0,315.9L347.0,314.0L353.5,306.6L359.2,300.0L360.6,294.4L360.6,303.4L368.3,303.4L368.3,308.4L372.3,306.0L376.4,304.4L381.5,307.3L379.3,309.8L376.0,308.4L371.2,313.8L366.4,317.0L360.0,323.4L353.5,326.2L349.7,324.3L347.3,322.8Z" fill="#8b8fc6" stroke-opacity="0.6"/>
<path d="M192.4,334.0L214.9,334.0L214.9,351.9L220.1,353.3L224.6,355.6L229.1,355.7L232.1,356.9L235.8,358.7L240.3,358.5L245.5,358.3L250.8,357.4L256.1,360.2L259.4,361.0L259.4,365.9L259.4,374.8L262.0,379.2L263.1,381.8L261.6,388.8L262.0,391.8L260.9,394.8L256.0,398.0L250.0,402.0L242.0,408.0L237.0,414.0L235.0,420.0L236.2,426.5L226.0,424.0L220.0,419.0L217.0,411.0L213.0,405.0L208.5,397.8L205.0,395.0L199.0,394.0L194.0,396.0L191.3,401.0L186.0,399.0L181.9,396.0L178.0,389.0L173.0,383.0L168.0,378.0L165.5,374.8L192.4,374.8Z" fill="#8b8fc6" stroke-opacity="0.6"/>
<path d="M87.4,206.0L94.8,206.0L94.8,215.0L97.0,220.0L103.0,228.0L107.0,233.0L108.0,241.0L111.0,245.0L114.0,249.0L118.0,254.0L124.0,255.4L129.0,254.4L132.2,255.2L132.2,280.8L87.4,280.8L87.4,260.0L86.0,256.0L89.0,250.0L91.0,243.0L87.4,239.2Z" fill="#8b8fc6" stroke-opacity="0.6"/>
<path d="M259.4,365.9L281.1,365.9L282.9,372.1L279.2,378.3L277.7,383.5L291.7,383.5L290.8,387.0L293.0,390.5L298.6,391.0L297.2,396.0L297.3,399.8L295.0,401.4L293.0,401.0L289.0,399.6L284.0,400.4L281.0,398.8L274.0,396.8L267.0,395.0L260.9,394.8L262.0,391.8L261.6,388.8L263.1,381.8L262.0,379.2L259.4,374.8Z" fill="#8b8fc6" stroke-opacity="0.6"/>
<path d="M94.8,206.0L184.6,206.0L184.6,249.9L132.2,249.9L132.2,255.2L129.0,254.4L124.0,255.4L118.0,254.0L114.0,249.0L111.0,245.0L108.0,241.0L107.0,233.0L103.0,228.0L97.0,220.0L94.8,215.0Z" fill="#bccde3" stroke-opacity="0.8"/>
<path d="M336.9,333.1L344.3,328.9L349.7,324.3L353.5,326.2L360.0,323.4L366.4,317.0L371.2,313.8L376.0,308.4L379.3,309.8L381.5,307.3L382.8,309.7L384.9,312.8L385.9,315.4L391.0,319.5L392.1,320.4L398.2,320.5L395.1,328.2L394.3,333.6L351.9,333.2Z" fill="#bccde3" stroke-opacity="0.8"/>
<path d="M199.5,300.7L250.0,300.7L253.0,302.6L251.9,306.0L255.3,309.2L255.1,329.4L199.5,329.4Z" fill="#bccde3" stroke-opacity="0.8"/>
<path d="M192.4,329.4L255.1,329.4L255.1,334.0L256.5,344.2L256.1,360.2L250.8,357.4L245.5,358.3L240.3,358.5L235.8,358.7L232.1,356.9L229.1,355.7L224.6,355.6L220.1,353.3L214.9,351.9L214.9,334.0L192.4,334.0Z" fill="#bccde3" stroke-opacity="0.8"/>
<path d="M428.0,249.9L429.3,247.1L430.9,246.8L433.9,270.0L433.2,272.0L432.5,272.8L420.9,273.5L421.2,264.8L424.4,256.8Z" fill="#bccde3" stroke-opacity="0.8"/>
<path d="M235.6,206.0L250.0,206.0L250.4,202.4L253.0,202.4L254.4,207.6L260.0,210.0L268.0,211.6L274.0,215.0L282.0,216.0L290.0,217.0L295.0,217.0L291.0,224.0L289.0,226.0L280.0,228.0L273.0,233.0L271.0,238.0L268.0,243.0L269.0,250.0L276.0,258.0L279.0,263.0L280.5,265.6L241.4,265.6L241.2,246.0L239.3,243.0L240.6,239.9L239.0,230.0L237.0,218.0Z" fill="#bccde3" stroke-opacity="0.8"/>
<path d="M132.2,249.9L184.6,249.9L184.6,290.8L132.2,290.8Z" fill="#f5f9fd" stroke-opacity="0.8"/>
<path d="M241.4,265.6L280.5,265.6L282.0,271.0L284.9,275.8L288.3,282.4L285.3,285.9L281.8,286.9L281.4,292.8L279.2,296.8L276.7,294.7L246.5,295.0L245.9,292.8L245.3,288.4L244.0,283.9L241.4,275.9L240.2,270.0Z" fill="#f5f9fd" stroke-opacity="0.8"/>
<path d="M109.8,280.8L132.2,280.8L132.2,290.8L147.2,290.8L147.2,329.4L109.8,329.4Z" fill="#f5f9fd" stroke-opacity="0.8"/>
<path d="M414.2,249.9L428.0,249.9L424.4,256.8L421.2,264.8L420.9,273.5L414.8,273.4L414.9,265.0L413.8,264.5L414.2,260.4Z" fill="#f5f9fd" stroke-opacity="0.8"/>
<path d="M184.6,270.7L226.1,270.7L230.6,272.9L235.1,272.2L239.5,274.3L241.4,275.9L244.0,283.9L245.3,288.4L245.9,292.8L246.5,295.0L250.0,300.7L199.5,300.7L199.5,290.8L184.6,290.8Z" fill="#f5f9fd" stroke-opacity="0.8"/>
<path d="M184.6,239.9L240.6,239.9L239.3,243.0L241.2,246.0L241.4,265.6L240.2,270.0L241.4,275.9L239.5,274.3L235.1,272.2L230.6,272.9L226.1,270.7L184.6,270.7Z" fill="#f5f9fd" stroke-opacity="0.8"/>
<path d="M184.6,206.0L235.6,206.0L237.0,218.0L239.0,230.0L240.6,239.9L184.6,239.9Z" fill="#f5f9fd" stroke-opacity="0.8"/>
<ellipse cx="65.5" cy="356.2" rx="2.6" ry="0.9" fill="#6a3585" stroke="#6a5a80" stroke-width="0.6"/>
<ellipse cx="69" cy="363" rx="1.0" ry="0.8" fill="#6a3585" stroke="#6a5a80" stroke-width="0.6"/>
<ellipse cx="76" cy="362" rx="1.2" ry="1.0" fill="#6a3585" stroke="#6a5a80" stroke-width="0.6"/>
<ellipse cx="77" cy="367" rx="1.1" ry="1.2" fill="#6a3585" stroke="#6a5a80" stroke-width="0.6"/>
<circle cx="342.6" cy="437" r="1.0" fill="#66668a" stroke="none"/>
</g>
</svg>
</body></html>
